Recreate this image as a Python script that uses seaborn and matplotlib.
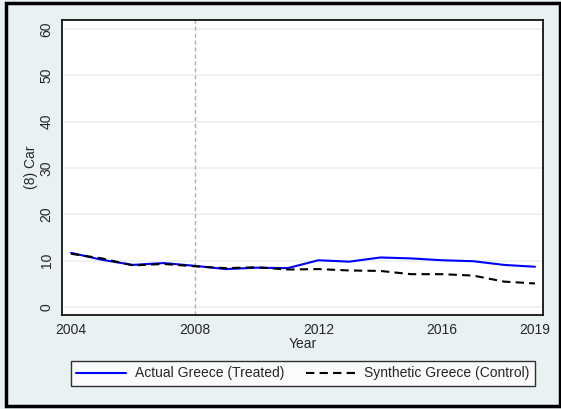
import pandas as pd
import seaborn as sns
import matplotlib.pyplot as plt
from matplotlib.patches import Rectangle
from matplotlib.lines import Line2D

years = list(range(2004, 2020))
actual = [11.7, 10.2, 9.1, 9.5, 8.9, 8.2, 8.5, 8.4, 10.1, 9.8, 10.7, 10.5, 10.1, 9.9, 9.1, 8.7]
synthetic = [11.5, 10.5, 9.0, 9.3, 8.8, 8.4, 8.6, 8.1, 8.2, 7.9, 7.8, 7.1, 7.1, 6.8, 5.5, 5.1]
series_names = ["Actual Greece (Treated)", "Synthetic Greece (Control)"]
x_ticks = [2004, 2008, 2012, 2016, 2019]
y_ticks = [0, 10, 20, 30, 40, 50, 60]
treat_year = 2008

df = pd.concat([
    pd.DataFrame({"Year": years, "value": actual, "series": series_names[0]}),
    pd.DataFrame({"Year": years, "value": synthetic, "series": series_names[1]}),
])

sns.set_style("white")
plt.rcParams["font.family"] = ["Liberation Sans", "DejaVu Sans"]
bg = "#eaf1f3"

fig = plt.figure(figsize=(5.61, 4.09), dpi=100, facecolor=bg)
ax = fig.add_axes([62 / 561, 94 / 409, 481 / 561, 295 / 409])
ax.set_facecolor("white")

for y in y_ticks:
    ax.axhline(y, color=bg, lw=1.2, zorder=0)
ax.axvline(treat_year, color="#b0b0b0", lw=1, ls=(0, (3, 2)), zorder=1)

sns.lineplot(data=df, x="Year", y="value", hue="series", style="series",
             palette={series_names[0]: "#0000ff", series_names[1]: "black"},
             dashes={series_names[0]: "", series_names[1]: (4, 2.5)},
             linewidth=1.5, legend=False, ax=ax)

ax.set_xlim(2003.71, 2019.26)
ax.set_ylim(-1.7, 61.9)
ax.set_xticks(x_ticks)
ax.set_yticks(y_ticks)
ax.tick_params(axis="both", direction="out", length=4, width=1, color="black",
               labelsize=10, pad=2)
for lab in ax.get_yticklabels():
    lab.set_rotation(90)
    lab.set_va("center")
ax.set_xlabel("Year", fontsize=10, labelpad=0)
ax.set_ylabel("(8) Car", fontsize=10, labelpad=1)
for s in ax.spines.values():
    s.set_color("black")
    s.set_linewidth(1.2)

handles = [Line2D([0], [0], color="#0000ff", lw=1.5),
           Line2D([0], [0], color="black", lw=1.5, ls=(0, (4, 2.5)))]
leg = fig.legend(handles, series_names, loc="center", ncol=2,
                 bbox_to_anchor=(303 / 561, (409 - 373.5) / 409),
                 frameon=True, fancybox=False, edgecolor="black", fontsize=10,
                 handlelength=3.6, handletextpad=0.6, columnspacing=1.6,
                 borderpad=0.4)
leg.get_frame().set_linewidth(1)

fig.patches.append(Rectangle((6 / 561, 3 / 409), 554 / 561, 403 / 409,
                             transform=fig.transFigure, fill=False,
                             edgecolor="black", lw=2.5))

fig.savefig("out.png", dpi=100, facecolor=bg)
